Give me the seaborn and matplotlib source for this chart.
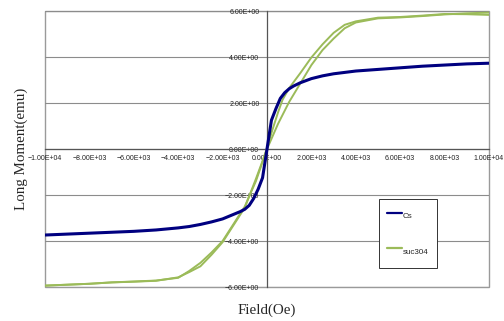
import numpy as np
import pandas as pd
import matplotlib
matplotlib.use("Agg")
import matplotlib.pyplot as plt
from matplotlib.ticker import StrMethodFormatter
from matplotlib.lines import Line2D
import seaborn as sns

# Cs: single branch (field ascending)
cs_field = [-10000, -9000, -8000, -7000, -6000, -5000, -4000, -3500, -3000, -2500,
            -2000, -1500, -1200, -1000, -800, -600, -400, -200, 0, 200, 400, 600,
            800, 1000, 1200, 1500, 2000, 2500, 3000, 3500, 4000, 5000, 6000, 7000,
            8000, 9000, 10000]
cs_moment = [-3.74, -3.70, -3.66, -3.62, -3.58, -3.52, -3.43, -3.37, -3.28, -3.17,
             -3.04, -2.84, -2.72, -2.62, -2.45, -2.15, -1.75, -1.25, 0.0, 1.25, 1.75,
             2.20, 2.45, 2.62, 2.74, 2.88, 3.06, 3.18, 3.27, 3.33, 3.39, 3.46, 3.53,
             3.60, 3.65, 3.70, 3.73]

# suc304: descending branch (+H -> -H)
suc_down_field = [10000, 9000, 8000, 7000, 6000, 5000, 4000, 3500, 3000, 2500, 2000,
                  1500, 1000, 700, 500, 250, 0, -250, -500, -800, -1000, -1500, -2000,
                  -2500, -3000, -3500, -4000, -5000, -6000, -7000, -8000, -9000, -10000]
suc_down_moment = [5.83, 5.86, 5.87, 5.80, 5.74, 5.71, 5.55, 5.40, 5.05, 4.55, 3.98,
                   3.30, 2.65, 2.14, 1.60, 0.85, 0.05, -0.70, -1.40, -2.05, -2.50, -3.25,
                   -4.00, -4.50, -4.95, -5.30, -5.60, -5.72, -5.76, -5.80, -5.86, -5.90,
                   -5.94]

# suc304: ascending branch (-H -> +H)
suc_up_field = [-10000, -9000, -8000, -7000, -6000, -5000, -4000, -3500, -3000, -2500,
                -2000, -1500, -1000, -500, 0, 500, 1000, 1500, 2000, 2500, 3000, 3500,
                4000, 5000, 6000, 7000, 8000, 9000, 10000]
suc_up_moment = [-5.94, -5.90, -5.86, -5.80, -5.77, -5.73, -5.58, -5.35, -5.10, -4.60,
                 -4.05, -3.30, -2.55, -1.30, 0.0, 1.10, 2.05, 2.85, 3.65, 4.30, 4.80,
                 5.25, 5.50, 5.68, 5.72, 5.78, 5.85, 5.90, 5.93]

x_ticks = np.arange(-10000, 10001, 2000)
y_ticks = np.arange(-6, 7, 2)

cs_color = "#000080"
suc_color = "#9BBB59"

sns.set_style("white")
plt.rcParams['font.family'] = ['Liberation Sans', 'DejaVu Sans']

fig = plt.figure(figsize=(5.04, 3.21), dpi=100)
ax = fig.add_axes([45 / 504, 1 - 287 / 321, 444 / 504, 276 / 321])

df_cs = pd.DataFrame({"H": cs_field, "M": cs_moment})
df_down = pd.DataFrame({"H": suc_down_field, "M": suc_down_moment})
df_up = pd.DataFrame({"H": suc_up_field, "M": suc_up_moment})

sns.lineplot(data=df_down, x="H", y="M", sort=False, color=suc_color, lw=1.4, ax=ax, zorder=3)
sns.lineplot(data=df_up, x="H", y="M", sort=False, color=suc_color, lw=1.4, ax=ax, zorder=3)
sns.lineplot(data=df_cs, x="H", y="M", sort=False, color=cs_color, lw=2.2, ax=ax, zorder=4)

ax.set_xlim(-10000, 10000)
ax.set_ylim(-6, 6)
ax.set_xticks(x_ticks)
ax.set_yticks(y_ticks)
ax.xaxis.set_major_formatter(StrMethodFormatter("{x:.2E}"))
ax.yaxis.set_major_formatter(StrMethodFormatter("{x:.2E}"))

# ejes cruzando en el origen
ax.spines['left'].set_position(('data', 0))
ax.spines['bottom'].set_position(('data', 0))
for s in ['left', 'bottom']:
    ax.spines[s].set_color("#555555")
    ax.spines[s].set_linewidth(0.9)
for s in ['top', 'right']:
    ax.spines[s].set_visible(False)

# marco del area de trazado
ax.patch.set_edgecolor("#9a9a9a")
ax.patch.set_linewidth(1.0)

ax.yaxis.grid(True, color="#8c8c8c", lw=0.8)
ax.set_axisbelow(True)

ax.tick_params(axis='x', direction='in', length=3, width=0.6, pad=4,
               labelsize=5, color="#555555", labelcolor="#222222")
ax.tick_params(axis='y', direction='out', length=5, width=0.6, pad=0.5,
               labelsize=5, color="#555555", labelcolor="#222222")

ax.set_xlabel("Field(Oe)", fontsize=10.8, family=['Liberation Serif'])
ax.set_ylabel("Long Moment(emu)", fontsize=10.8, family=['Liberation Serif'])
ax.xaxis.set_label_coords(0.5, -0.06)
ax.yaxis.set_label_coords(-0.038, 0.5)

handles = [Line2D([], [], color=cs_color, lw=1.6),
           Line2D([], [], color=suc_color, lw=1.6)]
leg = ax.legend(handles, ["Cs", "suc304"], loc='upper left',
                bbox_to_anchor=(0.752, 0.319), borderaxespad=0,
                fontsize=5.8, frameon=True, fancybox=False, framealpha=1,
                edgecolor="#333333", handlelength=1.9, handletextpad=0.1,
                handleheight=3.0, borderpad=1.0, labelspacing=2.2)
leg.get_frame().set_linewidth(0.7)

fig.savefig("out.png", dpi=100, facecolor="white")
